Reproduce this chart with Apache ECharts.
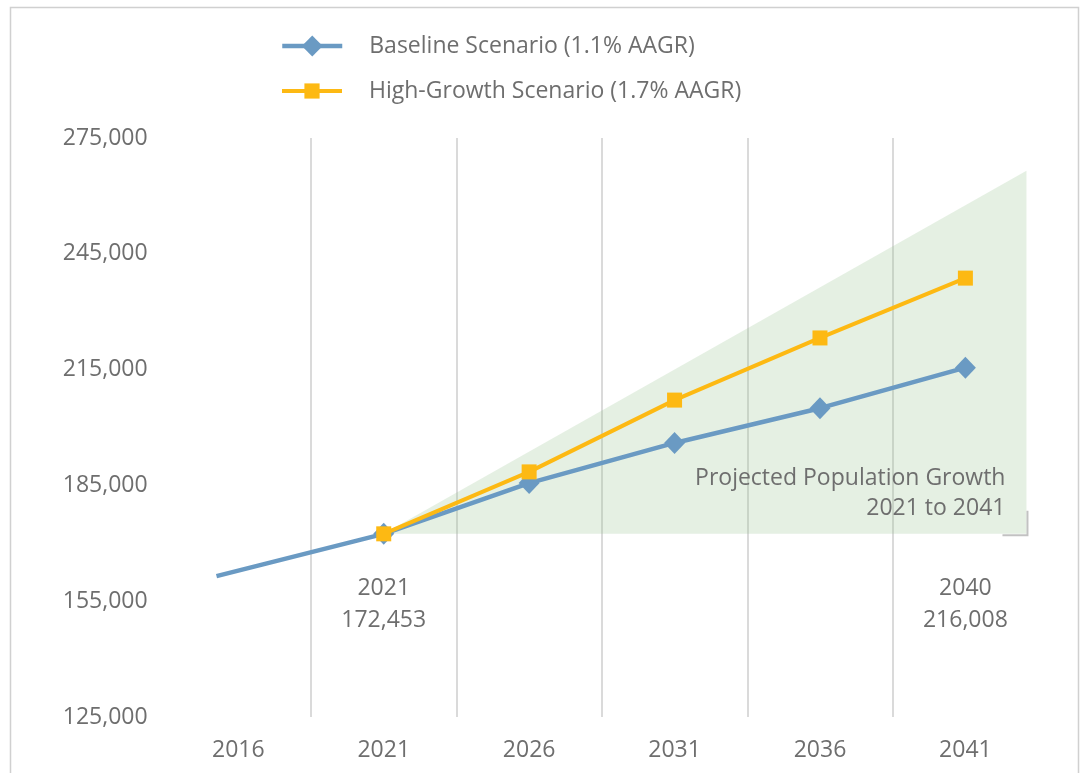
<!DOCTYPE html>
<html>
<head>
<meta charset="utf-8">
<script src="https://cdn.jsdelivr.net/npm/echarts@6/dist/echarts.min.js"></script>
<style>
  html, body { margin: 0; padding: 0; background: #ffffff; }
  #chart { width: 1083px; height: 773px; }
</style>
</head>
<body>
<div id="chart"></div>
<script>
// ---- data ----
const categories = ['2016', '2021', '2026', '2031', '2036', '2041'];
const yTicks = [125000, 155000, 185000, 215000, 245000, 275000];

const baselineName = 'Baseline Scenario (1.1% AAGR)';
const baselineYears = [2015.25, 2021, 2026, 2031, 2036, 2041];
const baselineValues = [161500, 172453, 185600, 196000, 205000, 215500];

const highName = 'High-Growth Scenario (1.7% AAGR)';
const highYears = [2021, 2026, 2031, 2036, 2041];
const highValues = [172453, 188500, 207100, 223200, 238700];

// shaded growth wedge: start point and far corner
const wedgeYears = [2021, 2043.1];
const wedgeValues = [172453, 266500];
const wedgeText = ['Projected Population Growth', '2021 to 2041'];

// callout labels
const calloutYears = [2021, 2041];
const calloutAnchor = [172453, 172453];
const calloutTop = ['2021', '2040'];
const calloutBottom = ['172,453', '216,008'];

// ---- chart ----
const FONT = '"Open Sans", "Noto Sans", sans-serif';
const FS = 23;
const TXT = '#6e6e6e';
const BLUE = '#6a9ac3';
const YELLOW = '#fdb913';

const chart = echarts.init(document.getElementById('chart'), null, { renderer: 'canvas' });

const legendText = { fontFamily: FONT, fontSize: FS, color: TXT, lineHeight: 26, padding: [0, 0, 0, 22] };

const option = {
  backgroundColor: '#ffffff',
  animation: false,
  textStyle: { fontFamily: FONT },
  graphic: [{
    type: 'rect',
    shape: { x: 10.5, y: 7.5, width: 1068, height: 800 },
    style: { fill: null, stroke: '#d0d0d0', lineWidth: 1.5 },
    silent: true, z: -10
  }],
  legend: [
    {
      orient: 'vertical', left: 280, top: 33, padding: 0,
      itemWidth: 60, itemHeight: 26,
      data: [baselineName],
      lineStyle: { width: 4.5 },
      textStyle: legendText
    },
    {
      orient: 'vertical', left: 280, top: 78, padding: 0,
      itemWidth: 60, itemHeight: 19,
      data: [highName],
      lineStyle: { width: 4 },
      textStyle: legendText
    }
  ],
  grid: { left: 165.6, right: 44.9, top: 138, bottom: 56, containLabel: false },
  xAxis: [
    {
      type: 'value', min: 2013.5, max: 2043.5, show: false
    },
    {
      type: 'category', data: categories, boundaryGap: true, position: 'bottom',
      axisLine: { show: false }, axisTick: { show: false },
      axisLabel: { fontFamily: FONT, fontSize: FS, color: TXT, margin: 22 },
      splitLine: { show: true, showMinLine: false, showMaxLine: false, lineStyle: { color: '#dadada', width: 2 } }
    }
  ],
  yAxis: {
    type: 'value', min: yTicks[0], max: yTicks[yTicks.length - 1], interval: yTicks[1] - yTicks[0],
    axisLine: { show: false }, axisTick: { show: false }, splitLine: { show: false },
    axisLabel: {
      fontFamily: FONT, fontSize: FS, color: TXT, margin: 18, padding: [0, 0, 7, 0],
      formatter: v => v.toLocaleString('en-US')
    }
  },
  series: [
    {
      type: 'custom', name: 'wedge', xAxisIndex: 0, yAxisIndex: 0, z: 1, silent: true,
      data: [[wedgeYears[0], wedgeValues[0]]],
      renderItem: function (params, api) {
        const p0 = api.coord([wedgeYears[0], wedgeValues[0]]);
        const p1 = api.coord([wedgeYears[1], wedgeValues[1]]);
        const p2 = api.coord([wedgeYears[1], wedgeValues[0]]);
        return {
          type: 'group',
          children: [
            { type: 'polygon', shape: { points: [p0, p1, p2] }, style: { fill: 'rgba(151,195,143,0.25)' } },
            { type: 'polyline', shape: { points: [[p2[0] - 24, p2[1] + 1.5], [p2[0] + 1, p2[1] + 1.5], [p2[0] + 1, p2[1] - 23]] },
              style: { stroke: '#c2c2c2', lineWidth: 2, fill: null } },
            { type: 'text', style: {
                text: wedgeText.join('\n'), x: p2[0] - 21, y: p2[1] - 40,
                align: 'right', verticalAlign: 'middle', lineHeight: 30,
                fontFamily: FONT, fontSize: FS, fill: TXT } }
          ]
        };
      }
    },
    {
      type: 'custom', name: 'callouts', xAxisIndex: 0, yAxisIndex: 0, z: 3, silent: true,
      data: calloutYears.map((x, i) => [x, calloutAnchor[i], i]),
      renderItem: function (params, api) {
        const i = api.value(2);
        const p = api.coord([api.value(0), api.value(1)]);
        return { type: 'text', style: {
          text: calloutTop[i] + '\n' + calloutBottom[i], x: p[0], y: p[1] + 71,
          align: 'center', verticalAlign: 'middle', lineHeight: 32,
          fontFamily: FONT, fontSize: FS, fill: TXT } };
      }
    },
    {
      type: 'line', name: baselineName, xAxisIndex: 0, yAxisIndex: 0, z: 4,
      data: baselineYears.map((x, i) => i === 0 ? { value: [x, baselineValues[i]], symbol: 'none' } : [x, baselineValues[i]]),
      symbol: 'diamond', symbolSize: [21, 22],
      lineStyle: { color: BLUE, width: 4.5 },
      itemStyle: { color: BLUE }
    },
    {
      type: 'line', name: highName, xAxisIndex: 0, yAxisIndex: 0, z: 5,
      data: highYears.map((x, i) => [x, highValues[i]]),
      symbol: 'rect', symbolSize: 15,
      lineStyle: { color: YELLOW, width: 4 },
      itemStyle: { color: YELLOW }
    }
  ]
};
chart.setOption(option);
</script>
</body>
</html>
